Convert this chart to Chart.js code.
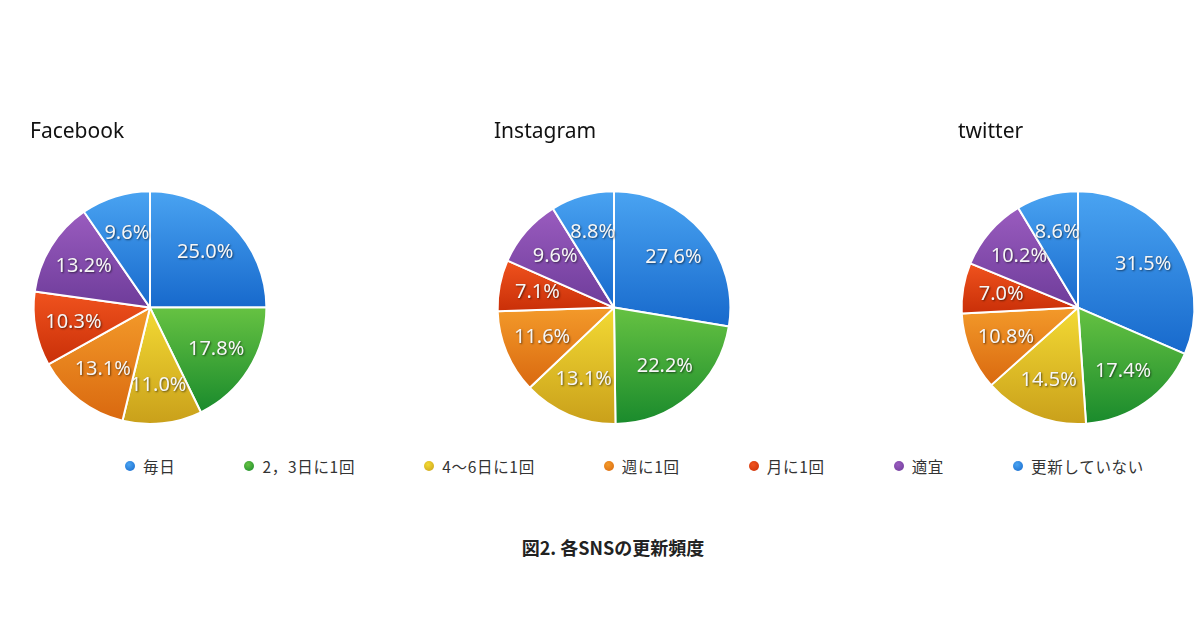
<!DOCTYPE html>
<html lang="ja">
<head>
<meta charset="utf-8">
<script src="https://cdn.jsdelivr.net/npm/chart.js@4"></script>
<style>
  html, body { margin: 0; padding: 0; background: #fff; }
  body { width: 1200px; height: 630px; position: relative; overflow: hidden; font-family: "Noto Sans CJK JP", "Noto Sans", sans-serif; }
  .pie { position: absolute; top: 112px; width: 240px; height: 313px; }
  #legend { position: absolute; left: 125px; top: 455px; display: flex; gap: 69px; font-size: 15.5px; letter-spacing: 0.7px; color: #333; }
  #legend .item { display: flex; align-items: center; white-space: nowrap; }
  #legend .dot { width: 10px; height: 10px; border-radius: 50%; margin-right: 8px; }
  #caption { position: absolute; left: 0; width: 1226px; top: 534px; text-align: center; font-size: 18px; font-weight: bold; color: #222; }
</style>
</head>
<body>
<div class="pie" style="left:30px"><canvas id="chart-facebook"></canvas></div>
<div class="pie" style="left:494px"><canvas id="chart-instagram"></canvas></div>
<div class="pie" style="left:958px"><canvas id="chart-twitter"></canvas></div>
<div id="legend"></div>
<div id="caption">図2. 各SNSの更新頻度</div>
<script>
// Data (percent of respondents)
const categories = ["毎日", "2，3日に1回", "4〜6日に1回", "週に1回", "月に1回", "適宜", "更新していない"]
const chartTitles = ["Facebook", "Instagram", "twitter"]
const facebookValues = [25.0, 17.8, 11.0, 13.1, 10.3, 13.2, 9.6]
const instagramValues = [27.6, 22.2, 13.1, 11.6, 7.1, 9.6, 8.8]
const twitterValues = [31.5, 17.4, 14.5, 10.8, 7.0, 10.2, 8.6]

// Slice colours: light at the top of each wedge, dark at the bottom
const lightColors = ["#4aa4f2", "#66c242", "#f3da34", "#f39a2a", "#f0531e", "#9a5cbf", "#4aa4f2"]
const darkColors = ["#1769cc", "#198a2c", "#c99f1a", "#d9680f", "#c92f08", "#6e3c9a", "#1769cc"]

const sliceFill = (ctx) => {
  const i = ctx.dataIndex
  const area = ctx.chart.chartArea
  if (i === undefined || !area) return lightColors[0]
  // work out the vertical extent of this wedge, then shade it top to bottom
  const data = ctx.dataset.data
  const total = data.reduce((a, b) => a + b, 0)
  const before = data.slice(0, i).reduce((a, b) => a + b, 0)
  const cy = (area.top + area.bottom) / 2
  const r = Math.min(area.width, area.height) / 2
  const a0 = -Math.PI / 2 + (2 * Math.PI * before) / total
  const a1 = a0 + (2 * Math.PI * data[i]) / total
  const ys = [cy, cy + r * Math.sin(a0), cy + r * Math.sin(a1)]
  if (a0 < Math.PI / 2 && a1 > Math.PI / 2) ys.push(cy + r)
  if (a1 > (3 * Math.PI) / 2) ys.push(cy - r)
  const g = ctx.chart.ctx.createLinearGradient(0, Math.min(...ys), 0, Math.max(...ys))
  g.addColorStop(0, lightColors[i])
  g.addColorStop(1, darkColors[i])
  return g
}

// Percent labels inside the slices
const pctLabels = {
  id: "pctLabels",
  afterDatasetsDraw(chart) {
    const { ctx } = chart
    const meta = chart.getDatasetMeta(0)
    const values = chart.data.datasets[0].data
    ctx.save()
    ctx.font = '20px "Noto Sans", sans-serif'
    ctx.textAlign = "center"
    ctx.textBaseline = "middle"
    ctx.fillStyle = "#f6f6f6"
    ctx.shadowColor = "rgba(0,0,0,0.55)"
    ctx.shadowOffsetX = 1
    ctx.shadowOffsetY = 1
    ctx.shadowBlur = 2
    meta.data.forEach((arc, i) => {
      const { x, y, startAngle, endAngle, outerRadius } = arc.getProps(["x", "y", "startAngle", "endAngle", "outerRadius"], true)
      const mid = (startAngle + endAngle) / 2
      const d = outerRadius * 0.67
      ctx.fillText(values[i].toFixed(1) + "%", x + Math.cos(mid) * d, y + Math.sin(mid) * d)
    })
    ctx.restore()
  },
}

const makePie = (id, title, values) =>
  new Chart(document.getElementById(id), {
    type: "pie",
    data: {
      labels: categories,
      datasets: [
        {
          data: values,
          backgroundColor: sliceFill,
          borderColor: "#ffffff",
          borderWidth: 2,
        },
      ],
    },
    options: {
      responsive: true,
      maintainAspectRatio: false,
      animation: false,
      events: [],
      layout: { padding: 0 },
      plugins: {
        legend: { display: false },
        tooltip: { enabled: false },
        title: {
          display: true,
          text: title,
          align: "start",
          color: "#111",
          font: { family: '"Noto Sans", sans-serif', size: 21, weight: "normal" },
          padding: { top: 7, bottom: 46 },
        },
      },
    },
    plugins: [pctLabels],
  })

makePie("chart-facebook", chartTitles[0], facebookValues)
makePie("chart-instagram", chartTitles[1], instagramValues)
makePie("chart-twitter", chartTitles[2], twitterValues)

// Shared legend under the three pies
const legend = document.getElementById("legend")
categories.forEach((name, i) => {
  const item = document.createElement("div")
  item.className = "item"
  const dot = document.createElement("span")
  dot.className = "dot"
  dot.style.background = `radial-gradient(circle at 40% 35%, ${lightColors[i]}, ${darkColors[i]})`
  const label = document.createElement("span")
  label.textContent = name
  item.appendChild(dot)
  item.appendChild(label)
  legend.appendChild(item)
})
</script>
</body>
</html>
